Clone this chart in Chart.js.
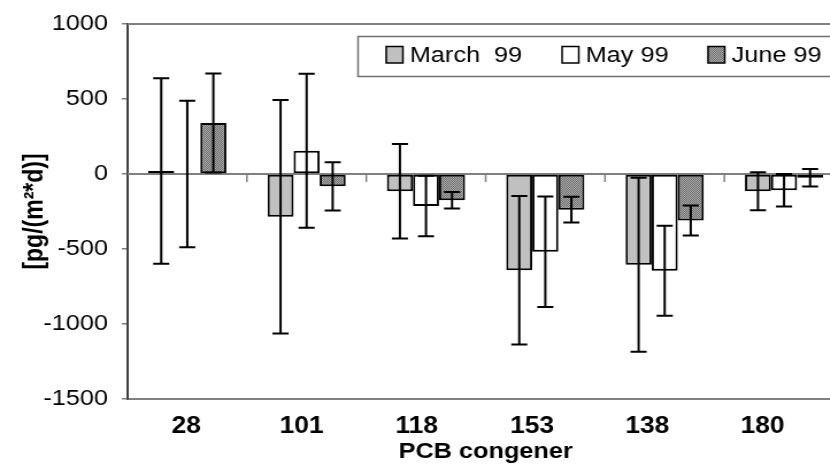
<!DOCTYPE html>
<html>
<head>
<meta charset="utf-8">
<script src="https://cdn.jsdelivr.net/npm/chart.js@4.4.1/dist/chart.umd.min.js"></script>
<style>
  html, body { margin: 0; padding: 0; overflow: hidden; background: #fff; }
</style>
</head>
<body>
<!-- drawn 736 wide, shown 846 wide: the original figure is stretched sideways -->
<canvas id="chart" width="736" height="469" style="width:846px;height:469px;display:block"></canvas>
<script>
const categories = ['28', '101', '118', '153', '138', '180'];
const seriesLabels = ['March  99', 'May 99', 'June 99'];

const march99 = [20, -285, -115, -642, -605, -115];
const may99 = [0, 155, -213, -518, -645, -108];
const june99 = [340, -82, -175, -238, -310, -25];

const march99Err = [619, 778, 315, 495, 580, 127];
const may99Err = [488, 513, 202, 368, 300, 108];
const june99Err = [330, 161, 55, 86, 100, 58];

const yTicks = [1000, 500, 0, -500, -1000, -1500];

const FONT = "'Liberation Sans', Arial, sans-serif";
const canvas = document.getElementById('chart');
const ctx = canvas.getContext('2d');

// fine dotted grey fill used for June
function dotPattern() {
    const c = document.createElement('canvas');
    c.width = 2;
    c.height = 2;
    const g = c.getContext('2d');
    g.fillStyle = '#b0b0b0';
    g.fillRect(0, 0, 2, 2);
    g.fillStyle = '#686868';
    g.fillRect(0, 0, 1, 1);
    g.fillRect(1, 1, 1, 1);
    return ctx.createPattern(c, 'repeat');
}

const zeroLine = {
    id: 'zeroLine',
    beforeDatasetsDraw(chart) {
        const { ctx, chartArea: a, scales: { x, y } } = chart;
        const y0 = y.getPixelForValue(0);
        ctx.save();
        ctx.strokeStyle = '#808080';
        ctx.lineWidth = 2;
        ctx.beginPath();
        ctx.moveTo(a.left, y0);
        ctx.lineTo(a.right, y0);
        ctx.moveTo(a.left, a.top);
        ctx.lineTo(a.right, a.top);
        ctx.stroke();
        ctx.lineWidth = 1.5;
        ctx.beginPath();
        for (let i = 1; i < categories.length; i++) {
            const bx = (x.getPixelForTick(i - 1) + x.getPixelForTick(i)) / 2;
            ctx.moveTo(bx, y0);
            ctx.lineTo(bx, y0 + 8);
        }
        ctx.stroke();
        ctx.restore();
    },
};

const errorBars = {
    id: 'errorBars',
    afterDatasetsDraw(chart) {
        const { ctx, scales: { y } } = chart;
        ctx.save();
        ctx.strokeStyle = '#000';
        ctx.lineWidth = 2;
        chart.data.datasets.forEach((ds, i) => {
            const meta = chart.getDatasetMeta(i);
            meta.data.forEach((bar, j) => {
                const v = ds.data[j];
                const e = ds.errors[j];
                const top = y.getPixelForValue(v + e);
                const bot = y.getPixelForValue(v - e);
                ctx.beginPath();
                ctx.moveTo(bar.x, top);
                ctx.lineTo(bar.x, bot);
                ctx.moveTo(bar.x - 7, top);
                ctx.lineTo(bar.x + 7, top);
                ctx.moveTo(bar.x - 7, bot);
                ctx.lineTo(bar.x + 7, bot);
                ctx.stroke();
            });
        });
        ctx.restore();
    },
};

const boxLegend = {
    id: 'boxLegend',
    afterDraw(chart) {
        const { ctx } = chart;
        const itemX = [336, 489, 616];
        ctx.save();
        ctx.fillStyle = '#fff';
        ctx.fillRect(311.5, 36.5, 500, 40);
        ctx.strokeStyle = '#707070';
        ctx.lineWidth = 1.5;
        ctx.strokeRect(311.5, 36.5, 500, 40);
        ctx.font = '22px ' + FONT;
        ctx.textBaseline = 'alphabetic';
        chart.data.datasets.forEach((ds, i) => {
            const x0 = itemX[i];
            ctx.fillStyle = ds.backgroundColor;
            ctx.fillRect(x0, 46.5, 14.5, 16.5);
            ctx.strokeStyle = '#000';
            ctx.lineWidth = 1.5;
            ctx.strokeRect(x0, 46.5, 14.5, 16.5);
            ctx.fillStyle = '#000';
            ctx.fillText(ds.label, x0 + 20.5, 62);
        });
        ctx.restore();
    },
};

function barSet(label, data, errors, fill) {
    return {
        label: label,
        data: data,
        errors: errors,
        xAxisID: 'x',
        backgroundColor: fill,
        borderColor: '#000',
        borderWidth: 2,
        borderSkipped: false,
        categoryPercentage: 0.655,
        barPercentage: 1.0,
    };
}

new Chart(ctx, {
    type: 'bar',
    data: {
        labels: categories,
        datasets: [
            barSet(seriesLabels[0], march99, march99Err, '#c0c0c0'),
            barSet(seriesLabels[1], may99, may99Err, '#ffffff'),
            barSet(seriesLabels[2], june99, june99Err, dotPattern()),
        ],
    },
    options: {
        responsive: false,
        animation: false,
        layout: { padding: { top: 24, right: 2, bottom: 0, left: 0 } },
        plugins: {
            legend: { display: false },
            tooltip: { enabled: false },
        },
        scales: {
            x: {
                type: 'category',
                position: 'bottom',
                weight: 0,
                ticks: { display: false },
                grid: { display: false, drawTicks: false },
                border: { display: true, color: '#808080', width: 2 },
                afterFit(scale) {
                    scale.height = 0;
                    scale.paddingLeft = 0;
                    scale.paddingRight = 0;
                },
            },
            // label axis: the original's category labels sit on a slightly tighter pitch than the bars
            xl: {
                type: 'linear',
                position: 'bottom',
                weight: 1,
                offset: false,
                beginAtZero: false,
                min: -0.51,
                max: 5.705,
                ticks: {
                    stepSize: 1,
                    includeBounds: false,
                    autoSkip: false,
                    maxRotation: 0,
                    padding: 14,
                    color: '#000',
                    font: { family: FONT, size: 23, weight: 'bold' },
                    callback: (v) => categories[v] ?? '',
                },
                grid: { display: false, drawTicks: false, offset: false },
                border: { display: false },
                title: {
                    display: true,
                    text: 'PCB congener',
                    color: '#000',
                    font: { family: FONT, size: 22, weight: 'bold' },
                    padding: { top: 0, bottom: 4 },
                },
                afterFit(scale) {
                    scale.height = 70;
                    scale.paddingLeft = 0;
                    scale.paddingRight = 0;
                },
            },
            y: {
                min: -1500,
                max: 1000,
                ticks: {
                    stepSize: 500,
                    padding: 12,
                    color: '#000',
                    font: { family: FONT, size: 22 },
                    callback: (v) => (yTicks.includes(v) ? String(v) : ''),
                },
                grid: {
                    display: true,
                    drawOnChartArea: false,
                    drawTicks: true,
                    tickLength: 5,
                    color: '#808080',
                    lineWidth: 1.5,
                },
                border: { display: true, color: '#404040', width: 2 },
                title: {
                    display: true,
                    text: '[pg/(m²*d)]',
                    color: '#000',
                    font: { family: FONT, size: 23, weight: 'bold' },
                    padding: { top: 17, bottom: 0 },
                },
                afterFit(scale) {
                    scale.width = 111;
                    scale.paddingTop = 0;
                    scale.paddingBottom = 0;
                },
            },
        },
    },
    plugins: [zeroLine, errorBars, boxLegend],
});
</script>
</body>
</html>
